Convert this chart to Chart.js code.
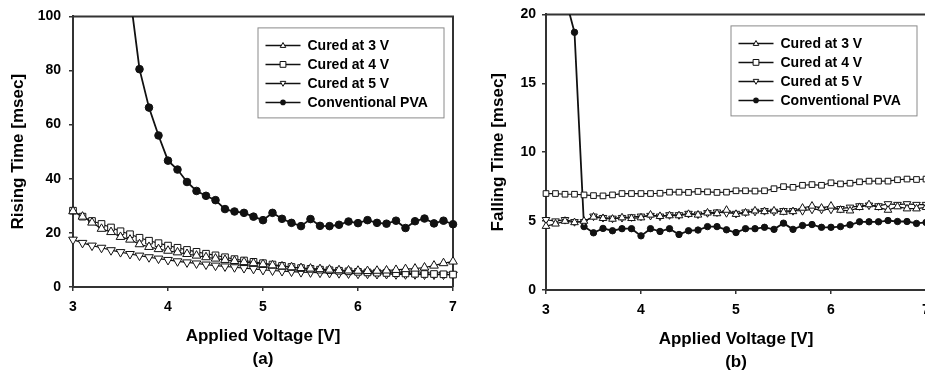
<!DOCTYPE html>
<html>
<head>
<meta charset="utf-8">
<script src="https://cdn.jsdelivr.net/npm/chart.js@4.4.1/dist/chart.umd.min.js"></script>
<style>
  html, body { margin: 0; padding: 0; background: #fff; overflow: hidden; width: 925px; height: 375px; }
  #wrap { position: relative; width: 925px; height: 375px; overflow: hidden; }
  canvas { position: absolute; top: 0; }
  #cA { left: 0; }
  #cB { left: 470px; }
</style>
</head>
<body>
<div id="wrap">
  <canvas id="cA" width="470" height="375"></canvas>
  <canvas id="cB" width="530" height="375"></canvas>
</div>
<script>
// ---------- data ----------
const voltage = [3.0,3.1,3.2,3.3,3.4,3.5,3.6,3.7,3.8,3.9,4.0,4.1,4.2,4.3,4.4,4.5,4.6,4.7,4.8,4.9,5.0,
                 5.1,5.2,5.3,5.4,5.5,5.6,5.7,5.8,5.9,6.0,6.1,6.2,6.3,6.4,6.5,6.6,6.7,6.8,6.9,7.0];
const seriesNames = ['Cured at 3 V', 'Cured at 4 V', 'Cured at 5 V', 'Conventional PVA'];

// (a) rising time [msec]
const rise3V = [28,26,23.8,21.5,20.3,18.5,17.5,15.8,14.8,14,13.4,12.8,12.2,11.6,11,10.5,10,9.6,9.2,8.8,8.4,
                8,7.6,7.3,7,6.8,6.6,6.4,6.2,6.1,6,5.9,6,6.1,6.3,6.6,6.8,7.2,7.9,8.8,9.4];
const rise4V = [28.2,26,24.4,23.3,22,20.6,19.5,18.2,17.1,16.2,15.3,14.5,13.7,13,12.3,11.7,11,10.3,9.8,9.3,8.8,
                8.3,7.8,7.4,7,6.7,6.4,6.2,6,5.8,5.6,5.4,5.3,5.2,5.1,5,4.9,4.8,4.8,4.7,4.6];
const rise5V = [17.5,16.3,15.3,14.5,13.6,12.9,12.2,11.6,11,10.5,10,9.5,9.1,8.7,8.3,7.9,7.6,7.3,7,6.7,6.3,
                6.1,5.9,5.7,5.5,5.4,5.3,5.2,5.1,5,4.9,4.9,4.8,4.8,4.7,4.7,4.7,4.6,4.6,4.6,4.6];
const riseConv = [520,420,330,260,200,150,108,80.5,66.3,56,46.7,43.4,38.8,35.5,33.7,32.1,28.8,27.9,27.4,26,24.7,
                  27.4,25.2,23.7,22.5,25.1,22.6,22.5,23,24.2,23.6,24.7,23.7,23.4,24.5,21.8,24.3,25.3,23.5,24.5,23.2];

// (b) falling time [msec]
const fall3V = [4.63,4.8,5.0,4.9,5.0,5.3,5.2,5.15,5.25,5.2,5.25,5.45,5.35,5.4,5.4,5.5,5.45,5.6,5.55,5.8,5.5,
                5.6,5.75,5.7,5.75,5.65,5.7,5.95,6.1,5.95,6.1,5.8,5.75,6.0,6.2,6.0,5.8,6.05,5.9,5.9,6.0];
const fall4V = [7.0,7.0,6.95,6.95,6.9,6.85,6.83,6.9,7.0,7.0,7.0,7.0,7.02,7.1,7.1,7.08,7.15,7.12,7.08,7.1,7.2,
                7.2,7.18,7.2,7.35,7.5,7.45,7.6,7.65,7.6,7.78,7.7,7.75,7.85,7.9,7.9,7.9,8.0,8.05,8.02,8.05];
const fall5V = [5.1,5.0,5.1,4.95,4.95,5.35,5.25,5.2,5.25,5.3,5.35,5.4,5.35,5.45,5.45,5.55,5.5,5.6,5.65,5.6,5.55,
                5.65,5.7,5.75,5.7,5.75,5.75,5.75,5.85,5.85,5.85,5.9,6.0,6.1,6.15,6.1,6.25,6.2,6.25,6.2,6.2];
const fallConv = [27,24,21.3,18.7,4.6,4.15,4.47,4.3,4.45,4.45,3.93,4.45,4.25,4.45,4.03,4.3,4.35,4.6,4.6,4.37,4.17,
                  4.45,4.45,4.55,4.4,4.85,4.4,4.68,4.75,4.55,4.55,4.6,4.73,4.95,4.95,4.95,5.04,4.97,4.97,4.83,4.9];

const xTicks = [3, 4, 5, 6, 7];
const riseTicks = [0, 20, 40, 60, 80, 100];
const fallTicks = [0, 5, 10, 15, 20];

// ---------- drawing helpers ----------
const FONT = "'Liberation Sans', Arial, sans-serif";
const INK = '#111';
const AXIS = '#333';

function pts(ys) { return voltage.map((v, i) => ({x: v, y: ys[i]})); }

function drawMarker(ctx, style, r, x, y) {
  ctx.beginPath();
  if (style === 'circle') {
    ctx.arc(x, y, r, 0, Math.PI * 2);
    ctx.fillStyle = INK; ctx.fill();
    return;
  }
  if (style === 'rect') {
    ctx.rect(x - r, y - r, 2 * r, 2 * r);
  } else if (style === 'tri') {
    ctx.moveTo(x, y - r); ctx.lineTo(x + r * 0.95, y + r * 0.7); ctx.lineTo(x - r * 0.95, y + r * 0.7); ctx.closePath();
  } else if (style === 'triDown') {
    ctx.moveTo(x, y + r); ctx.lineTo(x + r * 0.95, y - r * 0.7); ctx.lineTo(x - r * 0.95, y - r * 0.7); ctx.closePath();
  }
  ctx.fillStyle = '#fff'; ctx.fill();
  ctx.lineWidth = 1; ctx.strokeStyle = INK; ctx.stroke();
}

const framePlugin = {
  id: 'frame',
  beforeDatasetsDraw(chart) {
    const {ctx, chartArea: a} = chart;
    ctx.save();
    ctx.strokeStyle = AXIS; ctx.lineWidth = 2;
    ctx.beginPath();
    ctx.moveTo(a.left, a.top); ctx.lineTo(a.right, a.top); ctx.lineTo(a.right, a.bottom);
    ctx.stroke();
    ctx.restore();
  }
};

const legendStyles = ['tri', 'rect', 'triDown', 'circle'];
const insideLegend = {
  id: 'insideLegend',
  afterDraw(chart) {
    const {ctx, chartArea: a} = chart;
    const bx = a.left + 184.5, by = a.top + 11, bw = 186, bh = 90;
    ctx.save();
    ctx.fillStyle = '#fff';
    ctx.fillRect(bx, by, bw, bh);
    ctx.strokeStyle = '#8a8a8a'; ctx.lineWidth = 1;
    ctx.strokeRect(bx + 0.5, by + 0.5, bw, bh);
    chart.data.datasets.forEach((ds, i) => {
      const y = by + 18 + i * 19;
      ctx.beginPath();
      ctx.moveTo(bx + 8, y); ctx.lineTo(bx + 43, y);
      ctx.strokeStyle = INK; ctx.lineWidth = 1.5; ctx.stroke();
      drawMarker(ctx, legendStyles[i], i === 3 ? 2.8 : 2.9, bx + 25.5, y);
      ctx.fillStyle = '#000';
      ctx.font = "bold 14px " + FONT;
      ctx.textBaseline = 'middle';
      ctx.textAlign = 'left';
      ctx.fillText(ds.label, bx + 50, y + 0.5);
    });
    ctx.restore();
  }
};

function datasets(a, b, c, d, big) {
  const base = {
    borderColor: INK, borderWidth: 1.2, pointBorderColor: INK, pointBackgroundColor: '#fff',
    pointBorderWidth: 1, tension: 0, clip: {left: 8, right: 8, top: 0, bottom: 8}
  };
  return [
    Object.assign({}, base, {label: seriesNames[0], data: pts(a), pointStyle: 'triangle', pointRadius: big ? 5 : 4.4}),
    Object.assign({}, base, {label: seriesNames[1], data: pts(b), pointStyle: 'rect', pointRadius: big ? 4.7 : 4.0}),
    Object.assign({}, base, {label: seriesNames[2], data: pts(c), pointStyle: 'triangle', pointRotation: 180, pointRadius: big ? 5 : 4.4}),
    Object.assign({}, base, {label: seriesNames[3], data: pts(d), pointStyle: 'circle', borderWidth: 1.8,
      pointBackgroundColor: INK, pointRadius: big ? 3.8 : 3.2})
  ];
}

function makeChart(id, cfg) {
  return new Chart(document.getElementById(id), {
    type: 'line',
    data: {datasets: datasets(cfg.s1, cfg.s2, cfg.s3, cfg.s4, cfg.big)},
    options: {
      responsive: false, animation: false, devicePixelRatio: 1,
      layout: {padding: {left: 0, right: cfg.padRight, top: 13, bottom: 0}},
      plugins: {legend: {display: false}, tooltip: {enabled: false}},
      scales: {
        x: {
          type: 'linear', min: 3, max: 7,
          afterBuildTicks: s => { s.ticks = xTicks.map(v => ({value: v})); },
          afterFit: s => { s.height = cfg.xHeight; },
          grid: {drawOnChartArea: false, drawTicks: true, tickLength: 4, color: AXIS, lineWidth: 1.5},
          border: {display: true, color: AXIS, width: 2},
          ticks: {color: '#000', font: {family: FONT, size: 14, weight: 'bold'}, padding: 8, maxRotation: 0},
          title: {display: true, text: ['Applied Voltage [V]', cfg.tag], color: '#000',
                  font: {family: FONT, size: 17, weight: 'bold', lineHeight: 1.35}, padding: {top: 0, bottom: cfg.titlePadB}}
        },
        y: {
          type: 'linear', min: cfg.yTicks[0], max: cfg.yTicks[cfg.yTicks.length - 1],
          afterBuildTicks: s => { s.ticks = cfg.yTicks.map(v => ({value: v})); },
          afterFit: s => { s.width = cfg.yWidth; },
          grid: {drawOnChartArea: false, drawTicks: true, tickLength: 4, color: AXIS, lineWidth: 1.5},
          border: {display: true, color: AXIS, width: 2},
          ticks: {color: '#000', font: {family: FONT, size: 14, weight: 'bold'}, padding: cfg.yTickPad},
          title: {display: true, text: cfg.yTitle, color: '#000',
                  font: {family: FONT, size: 17, weight: 'bold', lineHeight: 1.2}, padding: {top: cfg.yTitlePad, bottom: 0}}
        }
      }
    },
    plugins: [framePlugin, insideLegend]
  });
}

makeChart('cA', {s1: rise3V, s2: rise4V, s3: rise5V, s4: riseConv, big: true, tag: '(a)',
  yTicks: riseTicks, yTitle: 'Rising Time [msec]', padRight: 17, xHeight: 88, yWidth: 73,
  yTickPad: 8, yTitlePad: 8, titlePadB: 4});
makeChart('cB', {s1: fall3V, s2: fall4V, s3: fall5V, s4: fallConv, big: false, tag: '(b)',
  yTicks: fallTicks, yTitle: 'Falling Time [msec]', padRight: 74, xHeight: 85, yWidth: 76,
  yTickPad: 6, yTitlePad: 18, titlePadB: 1});
</script>
</body>
</html>
